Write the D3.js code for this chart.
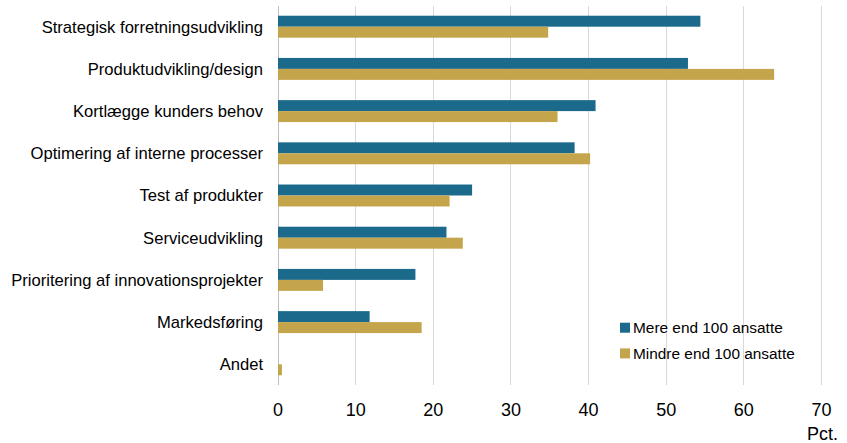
<!DOCTYPE html>
<html><head><meta charset="utf-8">
<script src="https://cdn.jsdelivr.net/npm/d3@7"></script>
<style>body{margin:0;background:#fff}svg{display:block}text{font-family:"Liberation Sans",Arial,sans-serif;fill:#000}</style>
</head><body><svg id="c" width="847" height="443"></svg>
<script>
const categories = ["Strategisk forretningsudvikling","Produktudvikling/design","Kortlægge kunders behov","Optimering af interne processer","Test af produkter","Serviceudvikling","Prioritering af innovationsprojekter","Markedsføring","Andet"];
const seriesNames = ["Mere end 100 ansatte","Mindre end 100 ansatte"];
const mere = [54.4,52.8,40.9,38.2,25.0,21.7,17.7,11.8,0];
const mindre = [34.8,63.9,36.0,40.2,22.1,23.8,5.8,18.5,0.5];
const xTicks = [0,10,20,30,40,50,60,70];
const colors = ["#1b6a8c","#c4a54b"];
const unitLabel = "Pct.";

const svg = d3.select("#c");
const x = d3.scaleLinear().domain([0,70]).range([278,821.5]);
const y = d3.scaleBand().domain(categories).range([5.6,385.4]).paddingInner(0.48).paddingOuter(0.24);
const ys = d3.scaleBand().domain([0,1]).range([0,y.bandwidth()]);

// gridlines
svg.append("g").selectAll("line").data(xTicks).join("line")
  .attr("x1",d=>x(d)).attr("x2",d=>x(d)).attr("y1",6).attr("y2",385)
  .attr("stroke",d=>d===0?"#bfbfbf":"#d9d9d9").attr("stroke-width",1)
  .attr("shape-rendering","crispEdges");

const data = categories.map((c,i)=>({c,vals:[mere[i],mindre[i]]}));
const g = svg.append("g");
data.forEach(d=>{
  d.vals.forEach((v,j)=>{
    if(v<=0) return;
    g.append("rect").attr("x",x(0)).attr("y",y(d.c)+ys(j))
      .attr("width",x(v)-x(0)).attr("height",ys.bandwidth())
      .attr("fill",colors[j]);
  });
});

// category labels
svg.append("g").selectAll("text").data(categories).join("text")
  .attr("x",263).attr("y",d=>y(d)+y.bandwidth()/2)
  .attr("dy","0.35em").attr("text-anchor","end")
  .style("font-size","16.6px").text(d=>d);

// x tick labels
svg.append("g").selectAll("text").data(xTicks).join("text")
  .attr("x",d=>x(d)).attr("y",416).attr("text-anchor","middle")
  .style("font-size","18px").text(d=>d);
svg.append("text").attr("x",838).attr("y",440).attr("text-anchor","end")
  .style("font-size","18px").text(unitLabel);

// legend
const lg = svg.append("g");
seriesNames.forEach((s,i)=>{
  lg.append("rect").attr("x",620).attr("y",322.7+i*25.7).attr("width",10).attr("height",10).attr("fill",colors[i]);
  lg.append("text").attr("x",633).attr("y",333+i*25.7).style("font-size","15.4px").text(s);
});
</script></body></html>
